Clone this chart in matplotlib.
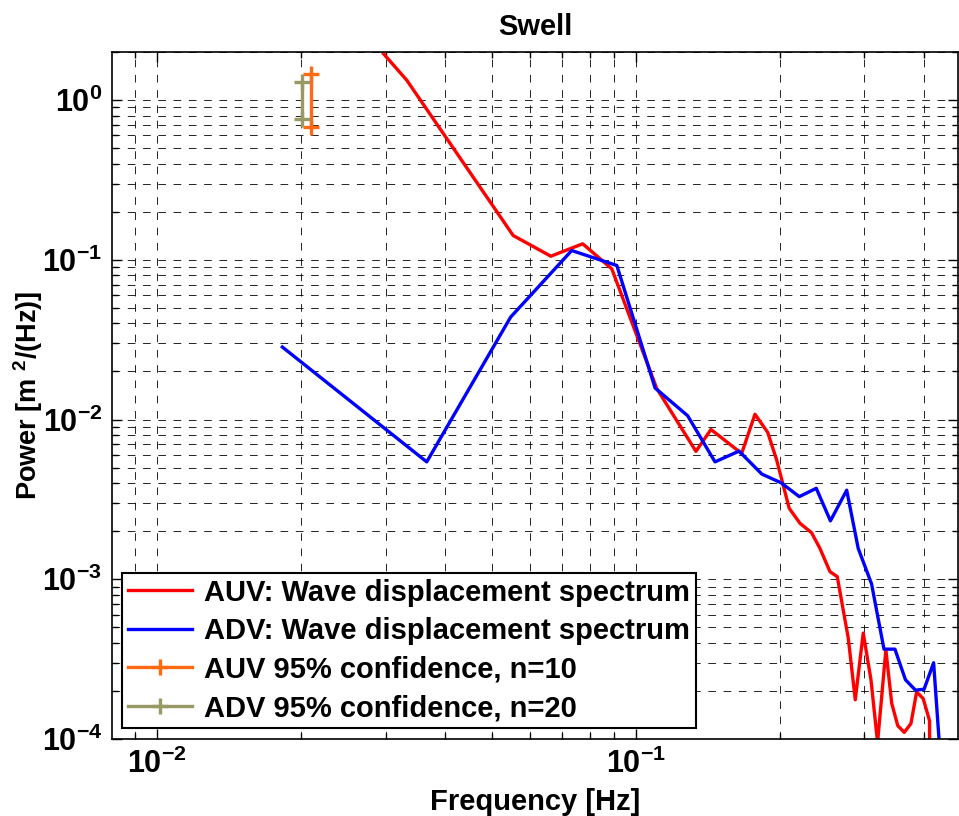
# Swell spectrum: AUV vs ADV wave displacement

import numpy as np
import matplotlib
matplotlib.use('Agg')
import matplotlib.pyplot as plt
from matplotlib.ticker import LogLocator, FuncFormatter, NullFormatter

plt.rcParams['font.family'] = ['Liberation Sans', 'DejaVu Sans']
plt.rcParams['font.weight'] = 'bold'
plt.rcParams['mathtext.fontset'] = 'custom'
plt.rcParams['mathtext.rm'] = 'Liberation Sans:bold'
plt.rcParams['mathtext.it'] = 'Liberation Sans:bold'
plt.rcParams['mathtext.bf'] = 'Liberation Sans:bold'
plt.rcParams['lines.scale_dashes'] = False

# AUV spectrum
auv_f = [0.0297, 0.0332, 0.0554, 0.0664, 0.0774, 0.0890, 0.1105, 0.1334, 0.1434,
         0.1662, 0.1772, 0.1884, 0.1967, 0.2089, 0.2200, 0.2326, 0.2421, 0.2541,
         0.2632, 0.2775, 0.2870, 0.2982, 0.3095, 0.3195, 0.3325, 0.3420, 0.3521,
         0.3633, 0.3751, 0.3855, 0.3979, 0.4102, 0.4112]
auv_p = [1.95, 1.334, 0.1419, 0.1053, 0.1259, 0.0878, 0.01563, 0.00632, 0.00866,
         0.00613, 0.01079, 0.0083, 0.00557, 0.00278, 0.00224, 0.001955, 0.001563,
         0.001116, 0.001038, 0.000428, 0.000176, 0.00046, 0.000235, 0.000095,
         0.000362, 0.000167, 0.000121, 0.00011, 0.000125, 0.000197, 0.000179,
         0.00013, 0.00001]

# ADV spectrum
adv_f = [0.01826, 0.03656, 0.05474, 0.07341, 0.0912, 0.1096, 0.1282, 0.1462,
         0.1641, 0.1832, 0.2008, 0.2193, 0.2379, 0.2547, 0.2754, 0.2911, 0.3104,
         0.3295, 0.3473, 0.3653, 0.3834, 0.3996, 0.4183, 0.4298]
adv_p = [0.02843, 0.00543, 0.0438, 0.1143, 0.0921, 0.01576, 0.01056, 0.00543,
         0.00634, 0.00455, 0.00402, 0.00329, 0.00371, 0.00232, 0.00361, 0.00156,
         0.000935, 0.000365, 0.000365, 0.000235, 0.000202, 0.000205, 0.0003,
         0.000095]

# 95% confidence bars
auv_ci_f = 0.02097
auv_ci = [0.681, 1.454]
adv_ci_f = 0.02004
adv_ci = [0.761, 1.30]

fig = plt.figure(figsize=(9.59, 8.16), dpi=100)
ax = fig.add_axes([0.1168, 0.0944, 0.882, 0.8419])

ax.plot(auv_f, auv_p, color='#FF0000', lw=2.4, label='AUV: Wave displacement spectrum')
ax.plot(adv_f, adv_p, color='#0000FF', lw=2.4, label='ADV: Wave displacement spectrum')
ax.plot([auv_ci_f, auv_ci_f], auv_ci, color='#FF6A10', lw=2.4, marker='+',
        ms=11, mew=2.4, label='AUV 95% confidence, n=10')
ax.plot([adv_ci_f, adv_ci_f], adv_ci, color='#999966', lw=2.4, marker='+',
        ms=11, mew=2.4, label='ADV 95% confidence, n=20')

ax.set_xscale('log')
ax.set_yscale('log')
ax.set_xlim(0.00805, 0.47)
ax.set_ylim(1e-4, 2)

ax.xaxis.set_major_locator(LogLocator(base=10, numticks=10))
ax.xaxis.set_minor_locator(LogLocator(base=10, subs=np.arange(2, 10), numticks=10))
ax.yaxis.set_major_locator(LogLocator(base=10, numticks=10))
ax.yaxis.set_minor_locator(LogLocator(base=10, subs=np.arange(2, 10), numticks=10))
fmt = FuncFormatter(lambda v, p: r'$10^{%d}$' % int(round(np.log10(v))))
ax.xaxis.set_major_formatter(fmt)
ax.yaxis.set_major_formatter(fmt)
ax.xaxis.set_minor_formatter(NullFormatter())
ax.yaxis.set_minor_formatter(NullFormatter())

ax.tick_params(which='both', direction='in', top=True, right=True, width=1.0)
ax.tick_params(which='major', length=7, labelsize=22, pad=7)
ax.tick_params(which='minor', length=4)

ax.grid(True, which='both', color='black', lw=0.6, linestyle=(0, (5.5, 5.5)))

for s in ax.spines.values():
    s.set_linewidth(1.2)

ax.set_title('Swell', fontsize=21, fontweight='bold', pad=12)
ax.set_xlabel('Frequency [Hz]', fontsize=21, fontweight='bold')
ax.set_ylabel(r'Power [m $^2$/(Hz)]', fontsize=19.5, fontweight='bold',
              family=['Liberation Sans Narrow', 'Liberation Sans'])
ax.xaxis.set_label_coords(0.5, -0.072)
ax.yaxis.set_label_coords(-0.079, 0.5)

leg = ax.legend(loc='lower left', bbox_to_anchor=(0.012, 0.016), fontsize=21,
                fancybox=False, framealpha=1, edgecolor='black', handlelength=2.2,
                borderaxespad=0, labelspacing=0.36, handletextpad=0.4,
                borderpad=0.2)
leg.get_frame().set_linewidth(1.5)

plt.savefig('out.png', dpi=100)
